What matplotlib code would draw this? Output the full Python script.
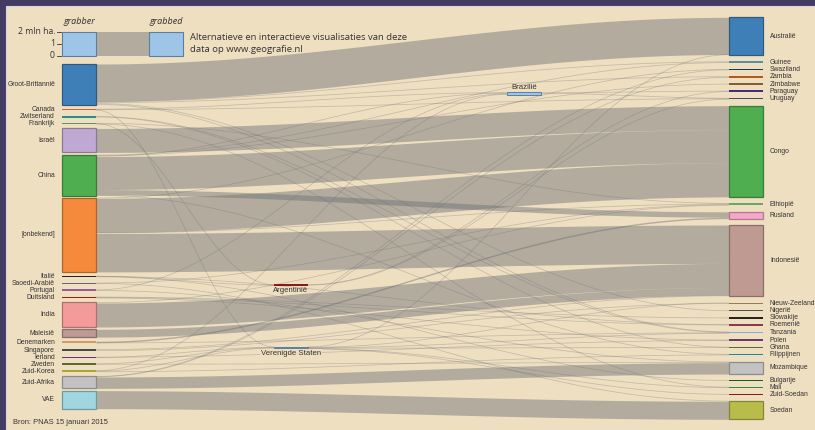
import matplotlib.pyplot as plt
import numpy as np
from matplotlib.patches import Rectangle

PX = 12.0  # pixels per mln ha

# ---- data ----------------------------------------------------------------
left_names = ['Groot-Brittannië', 'Canada', 'Zwitserland', 'Frankrijk', 'Israël', 'China',
              '[onbekend]', 'Italië', 'Saoedi-Arabië', 'Portugal', 'Duitsland', 'India',
              'Maleisië', 'Denemarken', 'Singapore', 'Ierland', 'Zweden', 'Zuid-Korea',
              'Zuid-Afrika', 'VAE']
left_colors = ['#3f7fb7', '#c8682e', '#2f8a8a', '#5a9a60', '#bfa9d3', '#4fae4f',
               '#f58a3c', '#2a2018', '#7a5a8a', '#9a5a9a', '#a01818', '#f39b9a',
               '#bd9a94', '#d59a6a', '#4a4a4a', '#5a3a7a', '#5a6a3a', '#a8a838',
               '#c2c2c2', '#9fd6e0']

right_names = ['Australië', 'Guinee', 'Swaziland', 'Zambia', 'Zimbabwe', 'Paraguay', 'Uruguay',
               'Congo', 'Ethiopië', 'Rusland', 'Indonesië', 'Nieuw-Zeeland', 'Nigerië',
               'Slowakije', 'Roemenië', 'Tanzania', 'Polen', 'Ghana', 'Filippijnen',
               'Mozambique', 'Bulgarije', 'Mali', 'Zuid-Soedan', 'Soedan']
right_colors = ['#3f7fb7', '#5b8fa0', '#1a3a5a', '#b05a20', '#8a5a30', '#4a2a7a', '#4a4a6a',
                '#4fae4f', '#6aa86a', '#f4a8c8', '#bf9a92', '#a07850', '#505050',
                '#2a2020', '#8a3a4a', '#8aaad8', '#6a3a6a', '#5a6a3a', '#1a8a9a',
                '#c2c2c2', '#1a5a2a', '#3a8a3a', '#8a1a1a', '#b8bc48']

mid_names = ['Brazilië', 'Argentinië', 'Verenigde Staten']
mid_colors = ['#9ec4e8', '#8a1a1a', '#9ec4e8']

flow_from = ['Groot-Brittannië'] * 5 + ['Canada'] * 3 + ['Zwitserland'] * 2 + ['Frankrijk'] * 3 \
    + ['Israël'] + ['China'] * 6 + ['[onbekend]'] * 4 + ['Italië'] * 3 + ['Saoedi-Arabië'] * 2 \
    + ['Portugal'] * 2 + ['Duitsland'] * 3 + ['India'] * 2 + ['Maleisië'] + ['Denemarken'] * 2 \
    + ['Singapore'] * 2 + ['Ierland'] * 2 + ['Zweden'] * 2 + ['Zuid-Korea'] * 3 \
    + ['Zuid-Afrika'] * 3 + ['VAE'] + ['Brazilië'] * 2 + ['Argentinië'] * 2 \
    + ['Verenigde Staten'] * 6
flow_to = ['Australië', 'Guinee', 'Zambia', 'Nigerië', 'Tanzania',
           'Brazilië', 'Uruguay', 'Verenigde Staten',
           'Ghana', 'Tanzania',
           'Argentinië', 'Ethiopië', 'Mali',
           'Congo',
           'Congo', 'Rusland', 'Zimbabwe', 'Brazilië', 'Filippijnen', 'Guinee',
           'Congo', 'Indonesië', 'Ethiopië', 'Swaziland',
           'Roemenië', 'Bulgarije', 'Argentinië',
           'Ethiopië', 'Soedan',
           'Mozambique', 'Brazilië',
           'Roemenië', 'Polen', 'Slowakije',
           'Indonesië', 'Ethiopië',
           'Indonesië',
           'Rusland', 'Tanzania',
           'Indonesië', 'Nieuw-Zeeland',
           'Polen', 'Verenigde Staten',
           'Mozambique', 'Verenigde Staten',
           'Brazilië', 'Filippijnen', 'Verenigde Staten',
           'Mozambique', 'Zambia', 'Swaziland',
           'Soedan',
           'Paraguay', 'Uruguay',
           'Uruguay', 'Paraguay',
           'Australië', 'Nieuw-Zeeland', 'Tanzania', 'Ghana', 'Mali', 'Zuid-Soedan']
flow_mha = [3.10, 0.08, 0.06, 0.10, 0.06,
            0.04, 0.04, 0.04,
            0.03, 0.03,
            0.03, 0.03, 0.04,
            2.00,
            2.75, 0.45, 0.05, 0.05, 0.05, 0.05,
            2.85, 3.20, 0.08, 0.04,
            0.02, 0.02, 0.03,
            0.03, 0.03,
            0.05, 0.05,
            0.04, 0.04, 0.04,
            2.00, 0.05,
            0.65,
            0.12, 0.03,
            0.10, 0.06,
            0.03, 0.03,
            0.03, 0.03,
            0.04, 0.06, 0.04,
            0.95, 0.03, 0.03,
            1.50,
            0.06, 0.04,
            0.03, 0.02,
            0.04, 0.03, 0.04, 0.03, 0.03, 0.04]

legend_ticks = ['2 mln ha.', '1', '0']

# ---- layout ----------------------------------------------------------------
BG = '#efdfc1'
FLOW = '#6a6e74'
XL0, XL1 = 62, 96
XR0, XR1 = 729, 763
mid_layout = {'Brazilië': (507, 93.5), 'Argentinië': (274, 285), 'Verenigde Staten': (274, 347.5)}
MW = 34


def darker(c, f=0.72):
    r, g, b = [int(c[i:i + 2], 16) / 255 for i in (1, 3, 5)]
    return (r * f, g * f, b * f)


size_out = {}
size_in = {}
for s, t, v in zip(flow_from, flow_to, flow_mha):
    size_out[s] = size_out.get(s, 0) + v
    size_in[t] = size_in.get(t, 0) + v

top = {}
hgt = {}
# left column: thick nodes sit close together, thin ones get room for their label
gap, thin_gap = 2.3 / PX, 6.0 / PX
cur = 64 / PX - gap / 2
for n in left_names:
    h = size_out[n]
    slot = h + (gap if h * PX >= 4 else thin_gap)
    top[n] = cur + (slot - h) / 2
    hgt[n] = h
    cur += slot
# right column
rtop, rbot = 17.3 / PX, 419.3 / PX
tot = sum(size_in[n] for n in right_names)
rgap = (rbot - rtop - tot) / (len(right_names) - 1)
cur = rtop
for n in right_names:
    top[n] = cur
    hgt[n] = size_in[n]
    cur += size_in[n] + rgap
# middle
for n in mid_names:
    h = size_in[n]
    top[n] = mid_layout[n][1] / PX - h / 2
    hgt[n] = h

xin = {n: XL1 for n in left_names}
xin.update({n: XR0 for n in right_names})
xout = dict(xin)
for n in mid_names:
    xin[n] = mid_layout[n][0]
    xout[n] = mid_layout[n][0] + MW

fig = plt.figure(figsize=(8.15, 4.3), dpi=100)
fig.patch.set_facecolor('#433b63')
ax = fig.add_axes([0, 0, 1, 1])
ax.set_xlim(0, 815)
ax.set_ylim(430 / PX, 0)
ax.axis('off')
ax.add_patch(Rectangle((6, 6 / PX), 815, 430, fc=BG, ec='#d8d4dc', lw=0.8, zorder=0))


def band(x0, a0, b0, x1, a1, b1):
    xs = np.linspace(x0, x1, 120)
    s = (1 - np.cos(np.pi * (xs - x0) / (x1 - x0))) / 2
    t = a0 + (a1 - a0) * s
    b = b0 + (b1 - b0) * s
    if (b0 - a0) * PX < 1.3:
        ax.plot(xs, (t + b) / 2, color=FLOW, lw=0.55, alpha=0.33, zorder=1)
    else:
        ax.fill_between(xs, t, b, color=FLOW, alpha=0.45, lw=0, zorder=1)


def center(n):
    return top[n] + hgt[n] / 2


off_out = {n: top[n] for n in top}
off_in = {n: top[n] for n in top}
order = sorted(range(len(flow_mha)), key=lambda i: (center(flow_from[i]), center(flow_to[i])))
starts = {}
for i in order:
    s = flow_from[i]
    starts[i] = off_out[s]
    off_out[s] += flow_mha[i]
order2 = sorted(range(len(flow_mha)), key=lambda i: (center(flow_to[i]), center(flow_from[i])))
ends = {}
for i in order2:
    t = flow_to[i]
    ends[i] = off_in[t]
    off_in[t] += flow_mha[i]
for i in range(len(flow_mha)):
    v = flow_mha[i]
    band(xout[flow_from[i]], starts[i], starts[i] + v, xin[flow_to[i]], ends[i], ends[i] + v)


def node(x, n, c, w=34):
    h = hgt[n]
    if h * PX >= 4:
        ax.add_patch(Rectangle((x, top[n]), w, h, fc=c, ec=darker(c), lw=0.9, zorder=3))
    else:
        hh = max(h, 1.5 / PX)
        ax.add_patch(Rectangle((x, center(n) - hh / 2), w, hh, fc=c, ec='none', lw=0, zorder=3))


lab = dict(family='Liberation Sans', fontsize=4.9, color='#333333')
for n, c in zip(left_names, left_colors):
    node(XL0, n, c)
    ax.text(55, center(n), n, ha='right', va='center', **lab)
for n, c in zip(right_names, right_colors):
    node(XR0, n, c)
    ax.text(770, center(n), n, ha='left', va='center', **lab)
for n, c in zip(mid_names, mid_colors):
    h = hgt[n]
    x = mid_layout[n][0]
    if c == '#9ec4e8':
        ax.add_patch(Rectangle((x, top[n]), MW, max(h, 1.8 / PX), fc=c, ec='#5a7fa0', lw=0.7, zorder=3))
    else:
        ax.add_patch(Rectangle((x, center(n) - 0.7 / PX), MW, 1.4 / PX, fc=c, ec='none', zorder=3))
mlab = dict(family='Liberation Sans', fontsize=5.6, color='#333333', ha='center', zorder=4)
ax.text(524, top['Brazilië'] - 1.5 / PX, 'Brazilië', va='bottom', **mlab)
ax.text(291, center('Argentinië') + 1.5 / PX, 'Argentinië', va='top', **mlab)
ax.text(291, top['Verenigde Staten'] + 3 / PX, 'Verenigde Staten', va='top',
        bbox=dict(fc=BG, ec='none', pad=0.6, alpha=0.85), **mlab)

# legend
ly = 32 / PX
band(XL1, ly, ly + 2, 149, ly, ly + 2)
ax.add_patch(Rectangle((XL0, ly), 34, 2, fc='#9ec4e8', ec='#5a7fa0', lw=0.8, zorder=3))
ax.add_patch(Rectangle((149, ly), 34, 2, fc='#9ec4e8', ec='#5a7fa0', lw=0.8, zorder=3))
hum = dict(family='Open Sans', color='#333333')
for k, t in enumerate(legend_ticks):
    ax.plot([57, 61], [ly + k, ly + k], color='#333333', lw=0.6)
    ax.text(55, ly + k, t, ha='right', va='center', fontsize=6.2, **hum)
ax.text(79, 26 / PX, 'grabber', ha='center', va='bottom', fontsize=6.5, style='italic', **hum)
ax.text(166, 26 / PX, 'grabbed', ha='center', va='bottom', fontsize=6.5, style='italic', **hum)
ax.text(190, 37 / PX, 'Alternatieve en interactieve visualisaties van deze', ha='left',
        va='center', fontsize=6.8, **hum)
ax.text(190, 49 / PX, 'data op www.geografie.nl', ha='left', va='center', fontsize=6.8, **hum)
ax.text(13, 423 / PX, 'Bron: PNAS 15 januari 2015', ha='left', va='center',
        family='Liberation Sans', fontsize=5.4, color='#333333')

fig.savefig('out.png', dpi=100, facecolor=fig.get_facecolor())
